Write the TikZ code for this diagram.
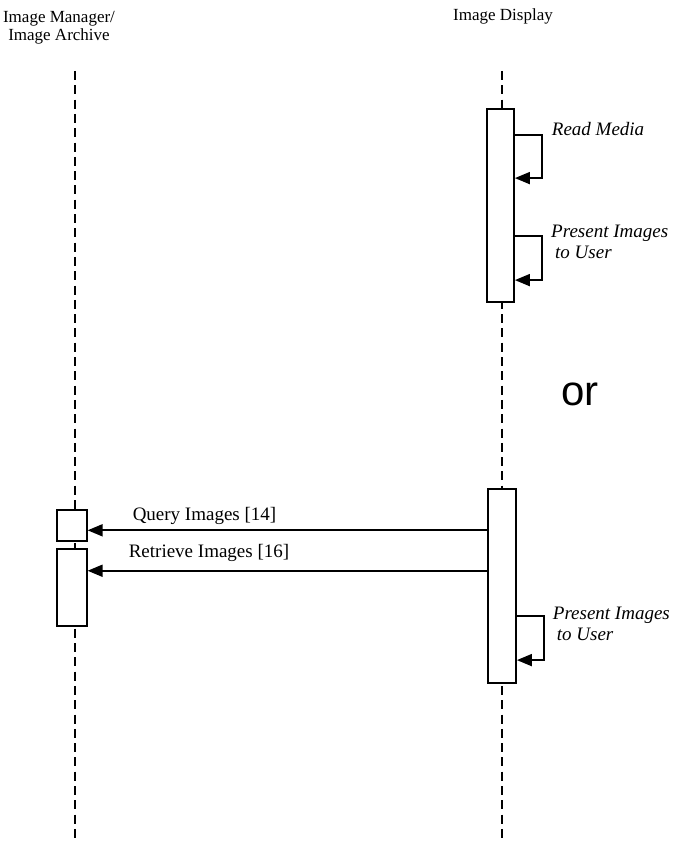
\documentclass[tikz,border=0pt]{standalone}
\usepackage{fontspec}
\setmainfont{Liberation Serif}
\newfontfamily\orfont{Liberation Sans}
\usetikzlibrary{arrows.meta,positioning,calc}

\begin{document}
\begin{tikzpicture}[x=1pt, y=-1pt,
  head/.style={font=\fontsize{17}{18}\selectfont, align=center, inner sep=0pt},
  act/.style={rectangle, draw, line width=1.8pt, fill=white, inner sep=0pt},
  life/.style={line width=1.8pt, dash pattern=on 9pt off 5.3pt},
  msg/.style={-{Triangle[length=15pt, width=12pt]}, line width=1.8pt},
  lbl/.style={font=\fontsize{19}{20}\selectfont, inner sep=0pt, anchor=base},
  slbl/.style={font=\fontsize{19}{21}\selectfont\itshape, inner sep=0pt,
               align=left, anchor=base west}
]
\useasboundingbox (0,0) rectangle (676,843);

% Lifeline heads
\node[head, anchor=base] (mgr)  at (59,40.7)  {Image Manager/\\Image Archive};
\node[head, anchor=base] (disp) at (503,20.7) {Image Display};

% Lifelines
\coordinate (mgrtop)  at (75,71);
\coordinate (mgrbot)  at (75,841);
\coordinate (disptop) at (502,71);
\coordinate (dispbot) at (502,841);
\draw[life] (mgrtop) -- (mgrbot);
\draw[life] (disptop) -- (dispbot);

% Activation boxes
\node[act, minimum width=27pt, minimum height=193pt]  (act1) at (500.5,205.5) {};
\node[act, minimum width=28pt, minimum height=194pt]  (act2) at (502,586) {};
\node[act, minimum width=30pt, minimum height=30.7pt] (qb)   at (71.7,525.3) {};
\node[act, minimum width=30pt, minimum height=76.7pt] (rb)   at (71.7,587.3) {};

% Self messages
\coordinate (rm1) at ([yshift=-27pt]act1.north east);
\coordinate (rm2) at ([yshift=-70pt]act1.north east);
\coordinate (pi1) at ([yshift=-128pt]act1.north east);
\coordinate (pi2) at ([yshift=-172pt]act1.north east);
\coordinate (pi3) at ([yshift=-128pt]act2.north east);
\coordinate (pi4) at ([yshift=-172pt]act2.north east);
\draw[msg] (rm1) -- ++(27,0) |- (rm2);
\draw[msg] (pi1) -- ++(27,0) |- (pi2);
\draw[msg] (pi3) -- ++(27,0) |- (pi4);

\node[slbl] (rml) at (551.7,135.7) {Read Media};
\node[slbl] (pil1) at (551,258) {Present Images\\\hspace*{4pt}to User};
\node[slbl] (pil2) at (552.7,640) {Present Images\\\hspace*{4pt}to User};

% Messages to the archive
\coordinate (q) at ([yshift=-5pt]qb.east);
\coordinate (r) at ([yshift=-22.7pt]rb.north east);
\draw[msg] (q -| act2.west) -- (q);
\draw[msg] (r -| act2.west) -- (r);
\node[lbl] (ql) at (204.5,520.7) {Query Images [14]};
\node[lbl] (rl) at (209,557) {Retrieve Images [16]};

% Alternative
\node[font=\orfont\fontsize{42}{42}\selectfont, anchor=base west, inner sep=0pt] (alt) at (561,405) {or};
\end{tikzpicture}
\end{document}
